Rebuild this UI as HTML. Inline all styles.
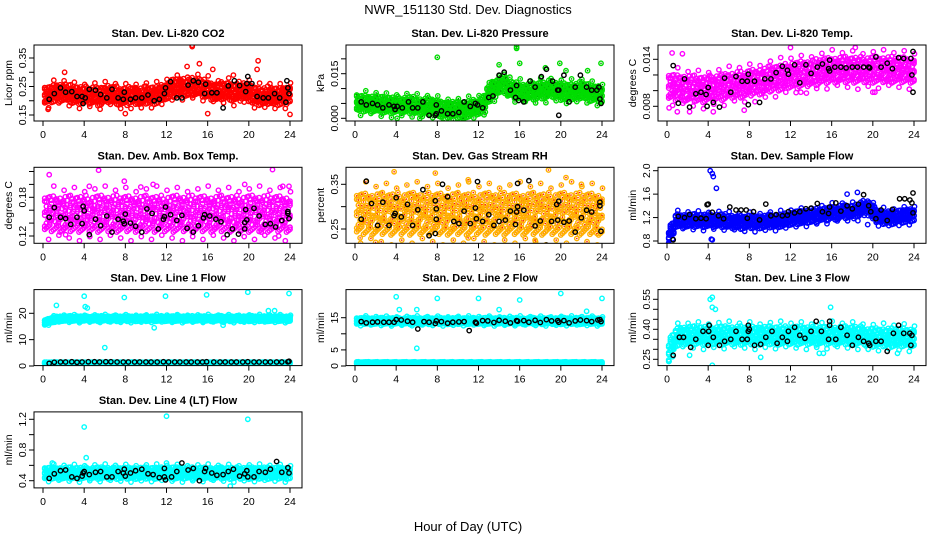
<!DOCTYPE html>
<html><head><meta charset="utf-8"><style>
html,body{margin:0;padding:0;background:#fff;}
svg{display:block;font-family:"Liberation Sans",sans-serif;}
</style></head><body>
<svg id="chart" width="936" height="540" viewBox="0 0 936 540">
<text x="468" y="14" text-anchor="middle" font-size="13">NWR_151130  Std. Dev. Diagnostics</text>
<text x="468" y="531" text-anchor="middle" font-size="13">Hour of Day (UTC)</text>
</svg>
<script>
// ---------- data (hour step 0.5 for band centers) ----------
const hourTicks = [0,4,8,12,16,20,24];
const co2Centers = [0.22,0.22,0.225,0.23,0.23,0.225,0.22,0.22,0.22,0.22,0.22,0.215,0.22,0.225,0.22,0.215,0.215,0.22,0.22,0.215,0.22,0.22,0.22,0.225,0.235,0.245,0.245,0.25,0.245,0.25,0.25,0.245,0.24,0.235,0.23,0.235,0.235,0.23,0.23,0.235,0.23,0.22,0.215,0.215,0.22,0.215,0.215,0.22,0.225];
const co2Black = [[0.6,0.205],[1.1,0.225],[1.7,0.245],[2.2,0.23],[2.8,0.232],[3.3,0.215],[3.8,0.215],[3.9,0.19],[4.1,0.21],[4.5,0.24],[5.1,0.237],[5.6,0.222],[6.2,0.21],[6.7,0.24],[7.3,0.21],[7.8,0.205],[7.9,0.23],[8.5,0.205],[9.0,0.21],[9.6,0.21],[10.2,0.22],[10.8,0.2],[11.3,0.205],[11.8,0.225],[11.9,0.245],[12.4,0.267],[13.0,0.21],[13.5,0.21],[14.1,0.255],[14.6,0.27],[15.1,0.265],[15.7,0.225],[15.8,0.258],[16.4,0.228],[16.9,0.228],[17.5,0.175],[18.0,0.252],[18.6,0.27],[19.1,0.253],[19.7,0.232],[19.8,0.26],[19.9,0.285],[20.3,0.26],[20.8,0.215],[21.4,0.21],[21.9,0.21],[22.5,0.225],[23.0,0.21],[23.6,0.195],[23.7,0.27],[23.8,0.245],[23.9,0.225]];
const co2Out = [[14.5,0.39],[14.5,0.395],[20.9,0.34],[15.2,0.33],[0.5,0.17],[8,0.155],[16,0.155],[24,0.152],[14,0.32],[20.8,0.31],[16.5,0.31],[2.1,0.3],[18.5,0.29]];

const presCenters = [0.0055,0.005,0.005,0.005,0.005,0.0045,0.0045,0.0045,0.0045,0.0045,0.0045,0.0045,0.004,0.004,0.004,0.004,0.0035,0.003,0.003,0.003,0.0028,0.003,0.0032,0.0035,0.004,0.005,0.008,0.01,0.011,0.012,0.01,0.0095,0.009,0.009,0.009,0.009,0.0095,0.0095,0.01,0.0095,0.009,0.009,0.009,0.009,0.0095,0.009,0.0085,0.0085,0.008];
const presBlack = [[0.6,0.0055],[1.1,0.0045],[1.7,0.005],[2.2,0.0045],[2.7,0.0035],[3.3,0.0045],[3.8,0.004],[3.9,0.003],[4.1,0.004],[4.6,0.0035],[5.2,0.0055],[5.6,0.0035],[6.1,0.0035],[6.6,0.0055],[7.2,0.001],[7.8,0.001],[7.9,0.0015],[7.9,0.0045],[8.4,0.0025],[9,0.0015],[9.5,0.0015],[10.1,0.002],[10.6,0.0055],[11.2,0.004],[11.7,0.005],[11.9,0.0045],[12.4,0.0035],[13,0.007],[13.4,0.0075],[14,0.0145],[14.5,0.0155],[15.1,0.0095],[15.6,0.007],[15.7,0.011],[15.9,0.006],[16.4,0.0055],[17,0.0125],[17.5,0.0105],[18.1,0.014],[18.6,0.0165],[19.2,0.0125],[19.7,0.0095],[19.8,0.0095],[19.8,0.001],[20.3,0.0145],[20.8,0.0055],[21.4,0.0105],[21.9,0.0145],[22.5,0.0105],[23.0,0.0095],[23.5,0.0095],[23.7,0.0105],[23.8,0.0065],[23.9,0.005]];
const presOut = [[8,0.0205],[15.7,0.0235],[15.7,0.024],[16,0.0185],[19.9,0.0185],[23.9,0.0185],[4.1,0.0],[6.3,0.0],[10.5,0.0],[18.5,0.017],[20.5,0.016],[22.6,0.016],[14,0.018]];

const tempCenters = [0.0105,0.0105,0.0104,0.0104,0.0103,0.0103,0.0102,0.0102,0.0103,0.0104,0.0104,0.0105,0.0106,0.0107,0.0108,0.0108,0.011,0.0111,0.0112,0.0113,0.0115,0.0116,0.0117,0.0118,0.012,0.012,0.0121,0.0122,0.0123,0.0124,0.0125,0.0126,0.0127,0.0127,0.0127,0.0127,0.0127,0.0127,0.0127,0.0127,0.0127,0.0127,0.0127,0.0127,0.0127,0.0127,0.0127,0.0127,0.0127];
const tempBlack = [[0.6,0.0132],[1.1,0.0084],[1.7,0.0115],[2.2,0.0079],[2.8,0.0096],[3.3,0.0098],[3.8,0.0095],[3.9,0.008],[4,0.0104],[4.5,0.0085],[5.1,0.0079],[5.6,0.0116],[6.2,0.0098],[6.7,0.0118],[7.3,0.0112],[7.8,0.0112],[7.9,0.0082],[7.9,0.0121],[8.5,0.0112],[9,0.0085],[9.5,0.0115],[10.1,0.0115],[10.6,0.0123],[11.2,0.0131],[11.7,0.0126],[11.8,0.0121],[12.4,0.0133],[12.9,0.011],[13.5,0.0133],[14,0.0122],[14.6,0.013],[15.1,0.0134],[15.7,0.0128],[15.8,0.0125],[15.8,0.0139],[16.3,0.013],[16.9,0.013],[17.4,0.0129],[18,0.013],[18.5,0.013],[19.1,0.013],[19.6,0.013],[19.7,0.0129],[20.3,0.0143],[20.8,0.013],[21.4,0.0135],[21.9,0.0128],[22.5,0.0142],[23,0.0141],[23.7,0.0141],[23.8,0.012],[23.9,0.015],[23.9,0.0098]];
const tempOut = [[0.5,0.0148],[1.5,0.0147],[12,0.0155],[18.3,0.0155],[1,0.0073],[2.2,0.0073],[4.5,0.0073],[7.5,0.0075],[0.2,0.0078],[20,0.0098],[20.2,0.0098],[13,0.0098]];

const ambCenters = Array(49).fill(0.155);
const ambBlack = [[0.6,0.149],[1.1,0.164],[1.7,0.149],[2.2,0.147],[2.7,0.138],[3.3,0.149],[3.8,0.139],[3.9,0.166],[4,0.159],[4.5,0.122],[5.1,0.146],[5.6,0.136],[6.2,0.151],[6.7,0.126],[7.3,0.146],[7.8,0.143],[7.9,0.139],[8,0.154],[8.5,0.14],[9,0.135],[9.6,0.126],[10.1,0.162],[10.6,0.155],[11.2,0.131],[11.7,0.146],[11.8,0.15],[11.9,0.165],[12.4,0.153],[13,0.144],[13.5,0.152],[14.0,0.132],[14.6,0.126],[15.1,0.136],[15.6,0.148],[15.7,0.153],[16.2,0.151],[16.8,0.146],[17.3,0.142],[17.9,0.122],[18.4,0.131],[19,0.123],[19.6,0.141],[19.6,0.131],[19.7,0.161],[19.8,0.145],[20.5,0.163],[21,0.151],[21.6,0.138],[22.1,0.139],[22.6,0.134],[23.2,0.144],[23.8,0.155],[23.8,0.158],[23.9,0.147]];
const ambOut = [[0.6,0.215],[5.4,0.222],[7.9,0.205],[9.5,0.196],[4.5,0.197],[19.6,0.2],[22.3,0.223],[23.3,0.197],[23.9,0.197],[13.5,0.105],[17.5,0.104],[10.7,0.2],[2.2,0.122],[21.2,0.126],[22.9,0.12]];

const rhCenters = Array(49).fill(0.285);
const rhBlack = [[0.6,0.272],[1.1,0.357],[1.6,0.307],[2.2,0.258],[2.7,0.31],[3.3,0.258],[3.8,0.28],[3.9,0.285],[4,0.32],[4.5,0.277],[5.1,0.305],[5.6,0.258],[6.1,0.293],[6.6,0.338],[7.2,0.235],[7.8,0.24],[7.8,0.313],[7.9,0.295],[7.9,0.272],[8.5,0.35],[9,0.322],[9.6,0.267],[10.1,0.262],[10.6,0.29],[11.2,0.262],[11.7,0.297],[11.8,0.273],[11.9,0.356],[12.4,0.267],[13,0.282],[13.5,0.258],[14,0.267],[14.6,0.27],[15.1,0.29],[15.6,0.26],[15.7,0.288],[15.8,0.3],[15.8,0.352],[16.4,0.292],[16.9,0.358],[17.5,0.257],[18,0.268],[18.6,0.214],[19.1,0.267],[19.6,0.305],[19.7,0.27],[19.8,0.312],[20.3,0.265],[20.8,0.268],[21.4,0.243],[22,0.275],[22.5,0.292],[23,0.288],[23.8,0.31],[23.8,0.302],[23.9,0.245]];
const rhOut = [[3.8,0.378],[7.8,0.375],[18.8,0.382],[20.5,0.365],[11,0.36],[22,0.35],[2,0.22],[0.5,0.23],[11,0.23],[17.5,0.225],[23.5,0.24]];

const flowCenters = [0.85,1.0,1.15,1.15,1.15,1.15,1.15,1.15,1.15,1.15,1.15,1.15,1.13,1.13,1.12,1.12,1.13,1.13,1.13,1.13,1.14,1.14,1.15,1.16,1.18,1.2,1.2,1.22,1.22,1.24,1.25,1.26,1.28,1.28,1.3,1.3,1.3,1.32,1.35,1.38,1.3,1.22,1.2,1.2,1.2,1.22,1.22,1.25,1.25];
const flowBlack = [[0.6,0.82],[1.1,1.22],[1.7,1.2],[2.2,1.25],[2.8,1.18],[3.3,1.19],[3.8,1.18],[3.9,1.42],[4,1.43],[4.4,1.29],[5,1.23],[5.5,1.18],[6.1,1.38],[6.7,1.33],[7.2,1.33],[7.7,1.33],[7.8,1.19],[8.4,1.3],[9,1.16],[9.6,1.43],[10.1,1.23],[10.6,1.25],[11.2,1.23],[11.7,1.24],[11.8,1.3],[12.4,1.28],[12.9,1.3],[13.5,1.35],[14,1.36],[14.6,1.44],[15.1,1.3],[15.7,1.27],[15.8,1.38],[16.4,1.45],[16.9,1.31],[17.5,1.4],[18,1.35],[18.6,1.43],[19.1,1.59],[19.6,1.4],[19.8,1.3],[20.3,1.18],[20.8,1.33],[21.4,1.15],[21.9,1.34],[22.6,1.52],[23.1,1.52],[23.6,1.5],[23.8,1.45],[23.9,1.62],[23.9,1.28]];
const flowOut = [[4.2,2.0],[4.4,1.95],[4.5,1.9],[4.8,1.7],[4.3,0.83],[4.4,0.82],[0.2,0.73],[19.5,1.08],[17.5,1.6],[18.5,1.63],[0.2,0.9]];

const l1Centers = [16.5,17,17.5,18,18,18,18,18,18,18,18,18,18,18,18,18,18,18,18,18,18,18,18,18,18,18,18,18,18,18,18,18,18,18,18,18,18,18,18,18,18,18,18,18,18,18,18,18,18];
const l1Low = Array(49).fill(1.2);
const l1Black = [[0.6,1],[1.1,1.4],[1.7,1.5],[2.2,1.5],[2.8,1.6],[3.3,1.4],[3.8,1.5],[4.4,1.6],[5,1.6],[5.5,1.5],[6.1,1.6],[6.6,1.6],[7.2,1.5],[7.8,1.5],[8.3,1.5],[8.9,1.5],[9.4,1.5],[10,1.5],[10.5,1.5],[11.1,1.5],[11.7,1.6],[12.2,1.5],[12.8,1.5],[13.3,1.5],[13.9,1.5],[14.4,1.5],[15,1.5],[15.5,1.5],[15.9,1.6],[16.6,1.5],[17.2,1.5],[17.7,1.5],[18.3,1.5],[18.8,1.5],[19.4,1.5],[19.9,1.6],[20.5,1.5],[21,1.5],[21.6,1.5],[22.1,1.5],[22.7,1.5],[23.2,1.5],[23.8,1.6],[23.9,1.8]];
const l1Out = [[1.3,23],[4,26.5],[4.1,22.5],[4.3,22],[6,7],[7.9,26],[11.9,26.5],[15.9,27],[19.9,28],[21.9,21],[22.5,21],[23.9,27.5],[10.8,14.5],[17.5,15.5],[0.2,16]];

const l2Centers = Array(49).fill(14);
const l2Low = Array(49).fill(1.0);
const l2Black = [[0.6,13.8],[1.1,13.4],[1.7,13.6],[2.2,13.7],[2.8,13.6],[3.3,13.6],[3.8,13.6],[4,14.4],[4.5,14.3],[5.1,13.9],[5.6,13.6],[6.1,11.5],[6.7,13.8],[7.2,13.6],[7.8,13.2],[7.9,14],[8.4,13.8],[9,13.3],[9.5,13.6],[10.1,13.7],[10.6,13.8],[11.1,11],[11.7,13.6],[11.8,13.3],[12.4,14.1],[12.9,14],[13.5,13.5],[14,14.2],[14.6,13.9],[15.1,13.4],[15.7,14.1],[15.8,13.9],[16.4,14.1],[16.9,13.6],[17.5,14.2],[18,13.5],[18.6,14.4],[19.1,14],[19.7,14.1],[19.8,13.6],[20.3,14.1],[20.8,13.4],[21.4,14],[21.9,14.3],[22.5,14.1],[23,13.8],[23.6,14.3],[23.8,14.4],[23.9,13.8]];
const l2Out = [[4,21.5],[4.3,17.5],[6,17.5],[6,5.5],[8,21],[12,21],[14,17.5],[16,20.5],[20,22.5],[22.5,17],[24,21]];

const l3Centers = [0.28,0.33,0.36,0.37,0.37,0.37,0.37,0.37,0.37,0.37,0.37,0.37,0.37,0.37,0.37,0.37,0.37,0.37,0.37,0.37,0.37,0.37,0.37,0.37,0.37,0.37,0.37,0.37,0.37,0.37,0.37,0.37,0.37,0.37,0.37,0.37,0.37,0.37,0.37,0.36,0.36,0.36,0.36,0.36,0.36,0.36,0.36,0.36,0.36];
const l3Black = [[0.6,0.27],[1.2,0.36],[1.6,0.36],[2.3,0.31],[2.8,0.35],[3.5,0.39],[4,0.32],[4.05,0.39],[4.1,0.42],[4.5,0.36],[5.1,0.32],[5.6,0.34],[6.2,0.35],[6.7,0.39],[7.3,0.35],[7.8,0.35],[7.9,0.39],[7.9,0.42],[8,0.4],[8.5,0.32],[9.1,0.325],[9.6,0.36],[10.2,0.39],[10.7,0.33],[11.2,0.36],[11.7,0.34],[11.8,0.39],[12.4,0.41],[12.9,0.37],[13.4,0.355],[14,0.39],[14.5,0.44],[15,0.39],[15.7,0.35],[15.8,0.42],[15.8,0.44],[16.4,0.35],[16.9,0.41],[17.5,0.37],[18.0,0.32],[18.6,0.36],[19.1,0.34],[19.6,0.33],[19.7,0.32],[20.3,0.34],[20.8,0.34],[21.4,0.29],[22,0.38],[22.5,0.42],[23.0,0.38],[23.6,0.38],[23.7,0.32],[23.8,0.37]];
const l3Out = [[4.2,0.55],[4.4,0.56],[4.4,0.51],[4.7,0.5],[4.4,0.22],[15.9,0.51],[0.2,0.24],[9.1,0.26],[2.2,0.27],[22.4,0.28],[14.8,0.28],[15.2,0.28]];

const l4Centers = Array(49).fill(0.5);
const l4Black = [[0.6,0.43],[1.1,0.49],[1.7,0.53],[2.2,0.54],[2.8,0.45],[3.3,0.43],[3.8,0.46],[3.9,0.5],[4,0.52],[4.5,0.48],[5.1,0.51],[5.6,0.52],[6.2,0.45],[6.7,0.45],[7.3,0.52],[7.8,0.5],[7.9,0.55],[8,0.46],[8.5,0.5],[9,0.53],[9.6,0.55],[10.2,0.49],[10.7,0.48],[11.3,0.44],[11.8,0.56],[11.8,0.45],[11.9,0.41],[12.5,0.45],[13,0.52],[13.5,0.63],[14.1,0.54],[14.6,0.56],[15.2,0.4],[15.7,0.52],[15.8,0.56],[16.4,0.5],[16.9,0.47],[17.5,0.48],[18,0.52],[18.5,0.55],[19.1,0.46],[19.6,0.49],[19.8,0.53],[19.9,0.45],[20.5,0.45],[21,0.52],[21.6,0.51],[22.1,0.55],[22.7,0.65],[23.2,0.51],[23.8,0.57],[23.9,0.5]];
const l4Out = [[4,1.1],[12,1.24],[19.9,1.2],[4.2,0.7],[18.2,0.33],[0.9,0.63],[12,0.63]];

// ---------- layout ----------
const panels = [
 {id:'co2',title:'Stan. Dev. Li-820 CO2',ylab:'Licor ppm',col:0,row:0,v0:0.15,p0:115,v1:0.35,p1:58,ticks:[0.15,0.20,0.25,0.30,0.35],labels:['0.15','','0.25','','0.35'],color:'#ff0000',centers:co2Centers,spread:0.03,black:co2Black,out:co2Out},
 {id:'pressure',title:'Stan. Dev. Li-820 Pressure',ylab:'kPa',col:1,row:0,v0:0,p0:118.3,v1:0.015,p1:73.7,ticks:[0,0.005,0.010,0.015,0.020],labels:['0.000','','','0.015',''],color:'#00dd00',centers:presCenters,spread:0.0027,black:presBlack,out:presOut,dot:'#008800'},
 {id:'temp',title:'Stan. Dev. Li-820 Temp.',ylab:'degrees C',col:2,row:0,v0:0.008,p0:106.3,v1:0.014,p1:59.3,ticks:[0.008,0.010,0.012,0.014],labels:['0.008','','','0.014'],color:'#ff00ff',centers:tempCenters,spread:0.0016,black:tempBlack,out:tempOut},
 {id:'ambtemp',title:'Stan. Dev. Amb. Box Temp.',ylab:'degrees C',col:0,row:1,v0:0.12,p0:236,v1:0.18,p1:197.3,ticks:[0.12,0.14,0.16,0.18,0.20,0.22],labels:['0.12','','','0.18','',''],color:'#ff00ff',centers:ambCenters,spread:0.027,black:ambBlack,out:ambOut},
 {id:'rh',title:'Stan. Dev. Gas Stream RH',ylab:'percent',col:1,row:1,v0:0.25,p0:229,v1:0.35,p1:184.3,ticks:[0.25,0.30,0.35],labels:['0.25','','0.35'],color:'#ffb000',centers:rhCenters,spread:0.045,black:rhBlack,out:rhOut,dot:'#ff2000'},
 {id:'sampleflow',title:'Stan. Dev. Sample Flow',ylab:'ml/min',col:2,row:1,v0:0.8,p0:241,v1:2.0,p1:170.7,ticks:[0.8,1.2,1.6,2.0],labels:['0.8','1.2','1.6','2.0'],color:'#0000ff',centers:flowCenters,spread:0.11,black:flowBlack,out:flowOut},
 {id:'line1',title:'Stan. Dev. Line 1 Flow',ylab:'ml/min',col:0,row:2,v0:0,p0:366,v1:20,p1:313.3,ticks:[0,10,20],labels:['0','10','20'],color:'#00ffff',centers:l1Centers,spread:1.0,low:l1Low,black:l1Black,out:l1Out},
 {id:'line2',title:'Stan. Dev. Line 2 Flow',ylab:'ml/min',col:1,row:2,v0:0,p0:366,v1:15,p1:317.7,ticks:[0,5,10,15],labels:['0','5','','15'],color:'#00ffff',centers:l2Centers,spread:1.0,low:l2Low,black:l2Black,out:l2Out},
 {id:'line3',title:'Stan. Dev. Line 3 Flow',ylab:'ml/min',col:2,row:2,v0:0.25,p0:359.3,v1:0.55,p1:299.3,ticks:[0.25,0.30,0.35,0.40,0.45,0.50,0.55],labels:['0.25','','','0.40','','','0.55'],color:'#00ffff',centers:l3Centers,spread:0.045,black:l3Black,out:l3Out},
 {id:'line4',title:'Stan. Dev. Line 4 (LT) Flow',ylab:'ml/min',col:0,row:3,v0:0.4,p0:480.7,v1:1.2,p1:419.3,ticks:[0.4,0.6,0.8,1.0,1.2],labels:['0.4','','0.8','','1.2'],color:'#00ffff',centers:l4Centers,spread:0.075,black:l4Black,out:l4Out}
];

const NS='http://www.w3.org/2000/svg';
const svg=document.getElementById('chart');
function mk(tag,attrs,parent){const e=document.createElementNS(NS,tag);for(const k in attrs)e.setAttribute(k,attrs[k]);parent.appendChild(e);return e;}

panels.forEach(p=>{
  const L=34+312*p.col, R=L+268, T=45+122.3*p.row, B=121+122.3*p.row;
  const xs=h=>L+9+h*(247/24);
  const ys=v=>p.p0+(v-p.v0)*(p.p1-p.p0)/(p.v1-p.v0);
  const g=mk('g',{},svg);
  
  
  const t=mk('text',{x:(L+R)/2,y:T-8,'text-anchor':'middle','font-size':'11','font-weight':'bold'},g);
  t.textContent=p.title;
  
  
  const yl=mk('text',{x:0,y:0,'text-anchor':'middle','font-size':'10.5',transform:`translate(${L-22},${(T+B)/2}) rotate(-90)`},g);
  yl.textContent=p.ylab;
  
  
  const cp=mk('clipPath',{id:'c'+p.id},g);
  mk('rect',{x:L,y:T,width:R-L,height:B-T},cp);
  const pts=mk('g',{'clip-path':`url(#c${p.id})`,fill:'none','stroke-width':'1.4'},g);
  
  
  function marker(h,v,col,isBlack){
    const c=mk('circle',{cx:xs(h).toFixed(1),cy:ys(v).toFixed(1),r:2.2,stroke:col},pts);
    if(p.dot&&!isBlack){mk('circle',{cx:xs(h).toFixed(1),cy:ys(v).toFixed(1),r:0.8,fill:p.dot,stroke:'none'},pts);}
    return c;
  }
  const bands=[p.centers]; if(p.low) bands.push(p.low);
  bands.forEach((arr,bi)=>{
    const sp=bi===0?p.spread:p.spread*0.3;
    arr.forEach((c,i)=>{
      for(let k=0;k<3;k++){
        const j=i*3+k;
        const h=i*0.5-0.25+k*0.167+0.08;
        if(h<0.05||h>24) continue;
        const n=bi===0?4+((j*7)%4):3;
        for(let m=0;m<n;m++){
          const base=-1+2*m/(n-1);
          const jit=(((j*13+m*29)%11)/11-0.5)*0.45;
          marker(h,c+(base*0.85+jit)*sp,p.color,false);
        }
        if(bi===0 && j%3===1){
          const s=((j*5)%2)?1:-1;
          marker(h+0.05,c+s*(1.25+((j*17)%5)*0.08)*sp,p.color,false);
        }
      }
    });
  });
  p.out.forEach(d=>marker(d[0],d[1],p.color,false));
  p.black.forEach(d=>marker(d[0],d[1],'#000',true));
  const box=mk('rect',{x:L,y:T,width:R-L,height:B-T,fill:'none',stroke:'#000','stroke-width':'1'},g);
  
  
  hourTicks.forEach(h=>{
    mk('line',{x1:xs(h),x2:xs(h),y1:B,y2:B+5,stroke:'#000'},g);
    const tl=mk('text',{x:xs(h),y:B+17,'text-anchor':'middle','font-size':'10.5'},g);
    tl.textContent=String(h);
    
    
  });
  p.ticks.forEach((v,i)=>{
    const y=ys(v);
    mk('line',{x1:L-5,x2:L,y1:y,y2:y,stroke:'#000'},g);
    if(p.labels[i]){
      const tl=mk('text',{x:0,y:0,'text-anchor':'middle','font-size':'10.5',transform:`translate(${L-8},${y}) rotate(-90)`},g);
      tl.textContent=p.labels[i];
      
      
    }
  });
});
</script>
</body></html>
